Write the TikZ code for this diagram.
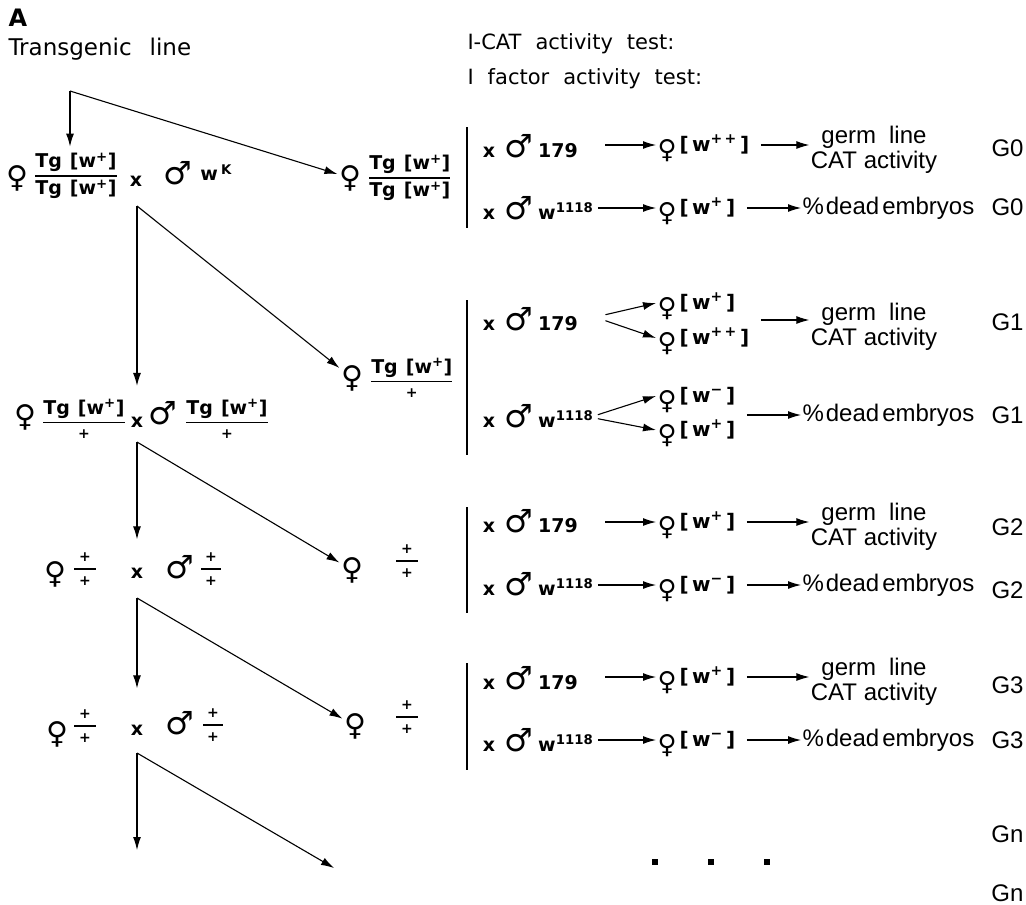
\documentclass[tikz,border=0pt]{standalone}
\usepackage{amsmath}
\usepackage{fontspec}
\setmainfont{DejaVu Sans}
\newfontfamily\helv{Liberation Sans}
\usetikzlibrary{positioning,arrows.meta}

\newcommand{\femsign}{♀}
\newcommand{\malsign}{♂}
\newcommand{\wtag}[1]{[w\textsuperscript{#1}]}
\newcommand{\plus}{{\fontsize{14}{14}\selectfont +}}
\newcommand{\gfrac}[2]{$\genfrac{}{}{1.2pt}{0}{\text{#1}}{\text{#2}}$}
\newcommand{\tgw}{Tg\hspace{8pt}\wtag{+}}
\newcommand{\progeny}[1]{\raisebox{-13.5pt}{\femsign}\hspace{3pt}\raisebox{-6pt}{\bfseries\fontsize{20}{20}\selectfont[\,w\textsuperscript{#1}\,]}}
\newcommand{\malrow}[1]{{\mdseries\fontsize{32}{32}\selectfont\malsign}\hspace{5pt}#1}

\begin{document}
\begin{tikzpicture}[x=1pt,y=-1pt,line width=1.1pt,>={Latex[length=13pt,width=8pt]},
  every node/.style={inner sep=1pt},
  bt/.style={font=\bfseries\fontsize{19}{22}\selectfont},
  rt/.style={font=\fontsize{21}{24}\selectfont},
  hv/.style={font=\helv\fontsize{24}{25}\selectfont},
  fem/.style={font=\fontsize{30}{30}\selectfont},
  mal/.style={font=\fontsize{32}{32}\selectfont},
  prog/.style={font=\fontsize{26}{26}\selectfont,text height=10pt,text depth=10pt,anchor=west},
  dot/.style={fill,minimum size=6pt,inner sep=0pt}]
\useasboundingbox (0,0) rectangle (1026,905);

% titles
\node[font=\bfseries\fontsize{24}{24}\selectfont,anchor=base west] (lab) at (7,26) {A};
\node[font=\fontsize{23}{26}\selectfont,anchor=base west] (tl) at (7,55) {Transgenic\hspace{18pt}line};
\node[rt,anchor=base west] (ic) at (466,49) {I-CAT\hspace{14pt}activity\hspace{14pt}test:};
\node[rt,anchor=base west] (if) at (466,84) {I\hspace{14pt}factor\hspace{14pt}activity\hspace{14pt}test:};

% left: generation 0
\coordinate (c0) at (70,91);
\node[fem] (f0) at (17,178) {\femsign};
\node[bt] (t0) at (76,176) {\gfrac{\tgw}{\tgw}};
\node[bt] (x0) at (136,181) {x};
\node[mal] (m0) at (178,173) {\malsign};
\node[bt,right=5pt of m0] (k0) {w\,\textsuperscript{K}};
\node[fem] (g0) at (350,178) {\femsign};
\node[bt,right=4pt of g0] (u0) {\gfrac{\tgw}{\tgw}};
\draw[->,shorten >=5pt] (c0) -- (c0 |- t0.north);
\draw[->] (c0) -- (g0);

% left: generation 1
\coordinate (c1) at (137,206);
\node[fem] (f1) at (25,417) {\femsign};
\node[bt] (t1) at (84,419) {\gfrac{\tgw}{\plus}};
\node[bt] (x1) at (137,422) {x};
\node[mal] (m1) at (163,413) {\malsign};
\node[bt] (s1) at (227,419) {\gfrac{\tgw}{\plus}};
\node[fem] (g1) at (352,378) {\femsign};
\node[bt,right=4pt of g1] (u1) {\gfrac{\tgw}{\plus}};
\draw[->,shorten >=12pt] (c1) -- (c1 |- t1.north);
\draw[->] (c1) -- (g1);

% left: generation 2
\coordinate (c2) at (137,442);
\node[fem] (f2) at (55,574) {\femsign};
\node[bt] (t2) at (85,569) {\gfrac{\makebox[22pt]{\plus}}{\plus}};
\node[bt] (x2) at (137,573) {x};
\node[mal] (m2) at (180,567) {\malsign};
\node[bt] (s2) at (211,569) {\gfrac{\makebox[20pt]{\plus}}{\plus}};
\node[fem] (g2) at (352,570) {\femsign};
\node[bt] (u2) at (407,561) {\gfrac{\makebox[22pt]{\plus}}{\plus}};
\draw[->,shorten >=12pt] (c2) -- (c2 |- t2.north);
\draw[->] (c2) -- (g2);

% left: generation 3
\coordinate (c3) at (137,598);
\node[fem] (f3) at (57,734) {\femsign};
\node[bt] (t3) at (85,726) {\gfrac{\makebox[22pt]{\plus}}{\plus}};
\node[bt] (x3) at (137,730) {x};
\node[mal] (m3) at (180,723) {\malsign};
\node[bt] (s3) at (213,725) {\gfrac{\makebox[20pt]{\plus}}{\plus}};
\node[fem] (g3) at (355,726) {\femsign};
\node[bt] (u3) at (407,717) {\gfrac{\makebox[22pt]{\plus}}{\plus}};
\draw[->,shorten >=20pt] (c3) -- (c3 |- t3.north);
\draw[->] (c3) -- (g3);

% left: generation n
\coordinate (c4) at (137,753);
\coordinate (e4) at (137,850);
\coordinate (e5) at (334,868);
\draw[->] (c4) -- (e4);
\draw[->] (c4) -- (e5);

% tests G0
\draw (467,127) -- (467,228);
\node[bt,anchor=base] (xa0) at (489,157) {x};
\node[bt,anchor=base west] (ma0) at (503,157) {\malrow{179}};
\node[prog] (pa0) at (656,145) {\progeny{+\,+}};
\node[hv,align=center] (ra0) at (874,150) {germ\hspace{13pt}line\\CAT activity};
\node[hv,anchor=west] (la0) at (990,148) {G0};
\draw[->] ([xshift=26pt]pa0.west -| ma0.east) -- (pa0.west);
\draw[->,shorten <=10pt] (pa0.east) -- (pa0.east -| ra0.west);
\node[bt,anchor=base] (xb0) at (489,219) {x};
\node[bt,anchor=base west] (mb0) at (503,219) {\malrow{w\textsuperscript{1118}}};
\node[prog] (pb0) at (656,208) {\progeny{+}};
\node[hv,anchor=west] (rb0) at (801,208) {\%\hspace{2pt}dead\hspace{3pt}embryos};
\node[hv,anchor=west] (lb0) at (990,207) {G0};
\draw[->] ([xshift=3pt]pb0.west -| mb0.east) -- (pb0.west);
\draw[->,shorten <=10pt] (pb0.east) -- (rb0.west);

% tests G1
\draw (467,300) -- (467,455);
\node[bt,anchor=base] (xa1) at (489,330) {x};
\node[bt,anchor=base west] (ma1) at (503,330) {\malrow{179}};
\node[prog] (pa1) at (656,303) {\progeny{+}};
\node[prog] (pc1) at (656,338) {\progeny{+\,+}};
\node[hv,align=center] (ra1) at (874,327) {germ\hspace{13pt}line\\CAT activity};
\node[hv,anchor=west] (la1) at (990,322) {G1};
\draw[->] ([xshift=26pt,yshift=4pt]ma1.east) -- (pa1.west);
\draw[->] ([xshift=26pt,yshift=-2pt]ma1.east) -- (pc1.west);
\draw[->,shorten <=10pt] ([yshift=18pt]pc1.east) -- ([yshift=18pt]pc1.east -| ra1.west);
\node[bt,anchor=base] (xb1) at (489,427) {x};
\node[bt,anchor=base west] (mb1) at (503,427) {\malrow{w\textsuperscript{1118}}};
\node[prog] (pb1) at (656,396) {\progeny{−}};
\node[prog] (pd1) at (656,430) {\progeny{+}};
\node[hv,anchor=west] (rb1) at (801,415) {\%\hspace{2pt}dead\hspace{3pt}embryos};
\node[hv,anchor=west] (lb1) at (990,415) {G1};
\draw[->] ([xshift=3pt,yshift=1pt]mb1.east) -- (pb1.west);
\draw[->] ([xshift=3pt,yshift=-3pt]mb1.east) -- (pd1.west);
\draw[->,shorten <=10pt] ([yshift=-19pt]pb1.east) -- (rb1.west);

% tests G2
\draw (467,507) -- (467,613);
\node[bt,anchor=base] (xa2) at (489,532) {x};
\node[bt,anchor=base west] (ma2) at (503,532) {\malrow{179}};
\node[prog] (pa2) at (656,522) {\progeny{+}};
\node[hv,align=center] (ra2) at (874,527) {germ\hspace{13pt}line\\CAT activity};
\node[hv,anchor=west] (la2) at (990,527) {G2};
\draw[->] ([xshift=26pt]pa2.west -| ma2.east) -- (pa2.west);
\draw[->,shorten <=10pt] (pa2.east) -- (pa2.east -| ra2.west);
\node[bt,anchor=base] (xb2) at (489,595) {x};
\node[bt,anchor=base west] (mb2) at (503,595) {\malrow{w\textsuperscript{1118}}};
\node[prog] (pb2) at (656,585) {\progeny{−}};
\node[hv,anchor=west] (rb2) at (801,585) {\%\hspace{2pt}dead\hspace{3pt}embryos};
\node[hv,anchor=west] (lb2) at (990,590) {G2};
\draw[->] ([xshift=3pt]pb2.west -| mb2.east) -- (pb2.west);
\draw[->,shorten <=10pt] (pb2.east) -- (rb2.west);

% tests G3
\draw (467,663) -- (467,770);
\node[bt,anchor=base] (xa3) at (489,689) {x};
\node[bt,anchor=base west] (ma3) at (503,689) {\malrow{179}};
\node[prog] (pa3) at (656,677) {\progeny{+}};
\node[hv,align=center] (ra3) at (874,682) {germ\hspace{13pt}line\\CAT activity};
\node[hv,anchor=west] (la3) at (990,685) {G3};
\draw[->] ([xshift=26pt]pa3.west -| ma3.east) -- (pa3.west);
\draw[->,shorten <=10pt] (pa3.east) -- (pa3.east -| ra3.west);
\node[bt,anchor=base] (xb3) at (489,751) {x};
\node[bt,anchor=base west] (mb3) at (503,751) {\malrow{w\textsuperscript{1118}}};
\node[prog] (pb3) at (656,740) {\progeny{−}};
\node[hv,anchor=west] (rb3) at (801,740) {\%\hspace{2pt}dead\hspace{3pt}embryos};
\node[hv,anchor=west] (lb3) at (990,740) {G3};
\draw[->] ([xshift=3pt]pb3.west -| mb3.east) -- (pb3.west);
\draw[->,shorten <=10pt] (pb3.east) -- (rb3.west);

% generation n
\node[hv,anchor=east] (ln) at (1025,834) {Gn};
\node[dot] (d1) at (655,862) {};
\node[dot] (d2) at (711,862) {};
\node[dot] (d3) at (767,862) {};
\node[hv,anchor=east] (lm) at (1025,893) {Gn};
\end{tikzpicture}
\end{document}
